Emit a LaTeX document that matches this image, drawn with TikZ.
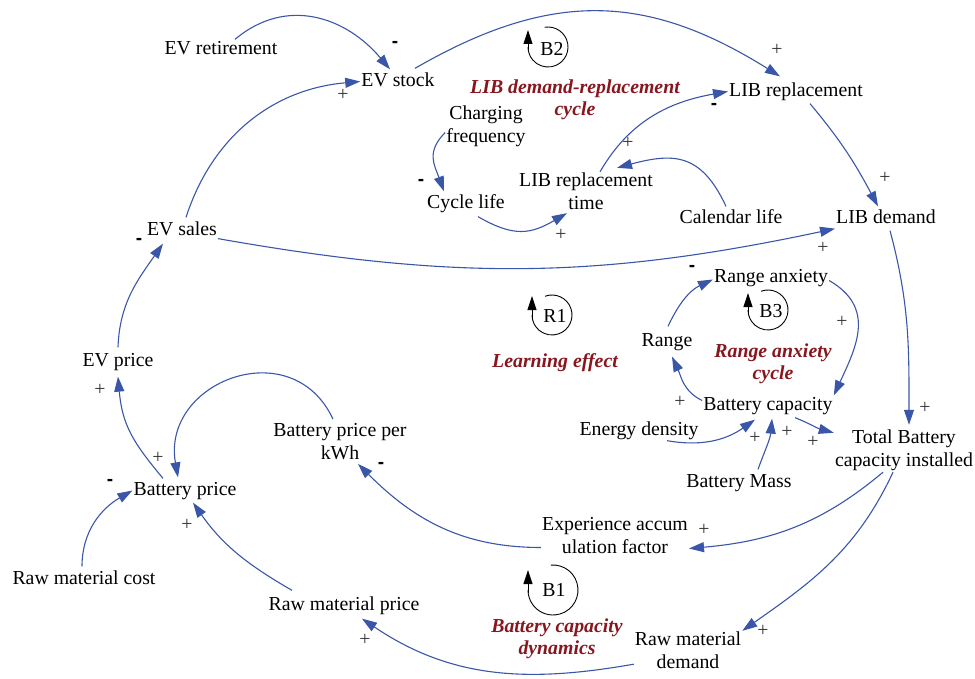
\documentclass[tikz,border=0pt]{standalone}
\usepackage{fontspec}
\setmainfont{Liberation Serif}
\newfontfamily\signfont{Liberation Sans}
\usetikzlibrary{arrows.meta}
\definecolor{linkblue}{RGB}{58,86,168}
\definecolor{loopred}{RGB}{135,22,30}
\begin{document}
\begin{tikzpicture}[x=1pt,y=1pt,
  v/.style={inner sep=1pt, align=center, font=\fontsize{19.8}{23}\selectfont},
  v1/.style={v, text height=13.6pt, text depth=4.3pt},
  link/.style={draw=linkblue, line width=1.1pt, -{Triangle[length=15pt,width=10pt]}},
  plus/.style={font=\fontsize{19.8}{23}\selectfont, text=black!80, inner sep=0pt},
  minus/.style={font=\signfont\bfseries\fontsize{19}{20}\selectfont, inner sep=0pt},
  looplabel/.style={align=center, inner sep=0pt, text=loopred, font=\fontsize{19.8}{22}\selectfont\bfseries\itshape},
  loopring/.style={draw=black, line width=0.9pt},
  looparrow/.style={draw=black, line width=0.9pt, -{Triangle[length=14pt,width=9pt]}},
  loopname/.style={inner sep=0pt, font=\fontsize{19.8}{23}\selectfont}
]
\useasboundingbox (0,0) rectangle (975,-679);

\begin{scope}[yshift=-2.5pt]
% variables
\node[v1] (evret) at (221,-47) {EV retirement};
\node[v1] (evstock) at (398,-79) {EV stock};
\node[v1] (librep) at (796,-89) {LIB replacement};
\node[v] (cf) at (486,-124) {Charging\\frequency};
\node[v1] (cyc) at (466,-201) {Cycle life};
\node[v] (lrt) at (586,-189) {LIB replacement\\time};
\node[v1] (callife) at (731,-216) {Calendar life};
\node[v1] (libd) at (886,-216) {LIB demand};
\node[v1] (evsales) at (182,-228) {EV sales};
\node[v1] (ranx) at (771,-275) {Range anxiety};
\node[v1] (range) at (667,-339) {Range};
\node[v1] (evp) at (118,-359) {EV price};
\node[v1] (batc) at (768,-403) {Battery capacity};
\node[v1] (ed) at (639,-428) {Energy density};
\node[v] (tbc) at (904,-448) {Total Battery\\capacity installed};
\node[v1] (bm) at (739,-480) {Battery Mass};
\node[v] (bpk) at (340,-439) {Battery price per\\kWh};
\node[v1] (bp) at (185,-488) {Battery price};
\node[v] (exp) at (615,-533) {Experience accum\\ulation factor};
\node[v1] (rmc) at (84,-577) {Raw material cost};
\node[v1] (rmp) at (344,-603) {Raw material price};
\node[v] (rmd) at (688,-648) {Raw material\\demand};

% loop labels
\node[looplabel] (lab2) at (575,-97) {LIB demand-replacement\\cycle};
\node[looplabel] (labr1) at (555,-360) {Learning effect};
\node[looplabel] (lab3) at (773,-361) {Range anxiety\\cycle};
\node[looplabel] (lab1) at (557,-636) {Battery capacity\\dynamics};
\end{scope}

% loop icons
\draw[loopring] (548,-47) ++(100:20) arc[start angle=100,end angle=-180,radius=20];
\draw[looparrow] (528,-50) -- (528,-30);
\node[loopname] (b2) at (552,-49) {B2};
\draw[loopring] (552,-315) ++(110:20) arc[start angle=110,end angle=-180,radius=20];
\draw[looparrow] (532,-318) -- (532,-296);
\node[loopname] (r1) at (555,-316) {R1};
\draw[loopring] (768,-310) ++(110:20) arc[start angle=110,end angle=-180,radius=20];
\draw[looparrow] (748,-313) -- (748,-293);
\node[loopname] (b3) at (771,-311) {B3};
\draw[loopring] (553,-590) ++(95:25) arc[start angle=95,end angle=-180,radius=25];
\draw[looparrow] (528,-593) -- (528,-570);
\node[loopname] (b1) at (554,-590) {B1};

% links
\draw[link] ([xshift=14pt]evret.north) to[out=40,in=130,looseness=1.1] ([xshift=-8pt,yshift=2pt]evstock.north);
\draw[link] ([xshift=4pt,yshift=3pt]evsales.north) to[out=72,in=185] (evstock.west);
\draw[link] ([xshift=17pt,yshift=3pt]evstock.north) to[out=30,in=148,looseness=1.1] ([xshift=-16pt,yshift=5pt]librep.north);
\draw[link] ([xshift=14pt]lrt.north) to[out=60,in=190] (librep.west);
\draw[link] ([xshift=-5pt,yshift=2pt]callife.north) to[out=115,in=15,looseness=1.3] ([xshift=31pt,yshift=4pt]lrt.north);
\draw[link] ([yshift=-6pt]cf.west) to[out=225,in=110,looseness=1.2] ([xshift=-22pt,yshift=2pt]cyc.north);
\draw[link] ([xshift=12pt,yshift=-3pt]cyc.south) to[out=-30,in=210,looseness=1.2] ([xshift=-19pt,yshift=-2pt]lrt.south);
\draw[link] ([xshift=14pt,yshift=-2pt]librep.south) to[out=-50,in=118] ([xshift=-8pt,yshift=2pt]libd.north);
\draw[link] ([yshift=2pt]evsales.south east) to[out=-10,in=192] (libd.south west);
\draw[link] ([xshift=4pt,yshift=-2pt]libd.south) to[out=-75,in=90] ([xshift=5pt,yshift=4pt]tbc.north);
\draw[link] ([yshift=-3pt]ranx.east) to[out=-30,in=65,looseness=1.2] (batc.north east);
\draw[link] ([xshift=1pt,yshift=5pt]range.north) to[out=65,in=205] ([yshift=-2pt]ranx.west);
\draw[link] ([yshift=5pt]batc.west) to[out=155,in=-65] ([xshift=5pt,yshift=-5pt]range.south);
\draw[link] ([xshift=28pt]ed.south) to[out=-10,in=215] ([xshift=-13pt,yshift=-4pt]batc.south);
\draw[link] ([xshift=19pt,yshift=3pt]bm.north) to[out=70,in=-95] ([xshift=4pt,yshift=-3pt]batc.south);
\draw[link] ([xshift=27pt,yshift=-2pt]batc.south) to[out=-22,in=165] ([yshift=-4pt]tbc.north west);
\draw[link] ([xshift=-21pt]tbc.south) to[out=-140,in=5] ([yshift=-13pt]exp.east);
\draw[link] ([xshift=-11pt]tbc.south) to[out=-115,in=35] (rmd.north east);
\draw[link] ([yshift=-12pt]exp.west) to[out=180,in=-45] ([xshift=18pt,yshift=-3pt]bpk.south);
\draw[link] ([xshift=-7pt,yshift=3pt]bpk.north) to[out=115,in=100,looseness=1.5] ([xshift=-7pt,yshift=3pt]bp.north);
\draw[link] ([xshift=-22pt,yshift=2pt]bp.north) to[out=130,in=-85,looseness=1.1] ([yshift=-5pt]evp.south);
\draw[link] ([yshift=4pt]evp.north) to[out=88,in=235] ([xshift=-19pt,yshift=-3pt]evsales.south);
\draw[link] ([xshift=-2pt,yshift=3pt]rmc.north) to[out=90,in=210] (bp.west);
\draw[link] ([xshift=-52pt,yshift=5pt]rmp.north) to[out=150,in=-55] ([xshift=8pt,yshift=-2pt]bp.south);
\draw[link] ([yshift=6pt]rmd.south west) to[out=190,in=-34,looseness=1.0] ([xshift=18pt,yshift=-3pt]rmp.south);

% polarity signs
\node[minus] (s1) at (395,-44) {-};
\node[plus] (s2) at (343,-95) {+};
\node[plus] (s3) at (777,-50) {+};
\node[minus] (s4) at (714,-106) {-};
\node[plus] (s5) at (628,-143) {+};
\node[minus] (s6) at (421,-182) {-};
\node[plus] (s7) at (561,-235) {+};
\node[plus] (s8) at (885,-178) {+};
\node[plus] (s9) at (823,-248) {+};
\node[plus] (s10) at (925,-408) {+};
\node[plus] (s11) at (842,-322) {+};
\node[minus] (s12) at (692,-268) {-};
\node[plus] (s13) at (680,-402) {+};
\node[plus] (s14) at (755,-438) {+};
\node[plus] (s15) at (787,-432) {+};
\node[plus] (s16) at (813,-442) {+};
\node[plus] (s17) at (704,-530) {+};
\node[plus] (s18) at (763,-631) {+};
\node[minus] (s19) at (381,-465) {-};
\node[plus] (s20) at (158,-458) {+};
\node[plus] (s21) at (100,-390) {+};
\node[minus] (s22) at (139,-241) {-};
\node[minus] (s23) at (110,-482) {-};
\node[plus] (s24) at (187,-525) {+};
\node[plus] (s25) at (365,-640) {+};
\end{tikzpicture}
\end{document}
